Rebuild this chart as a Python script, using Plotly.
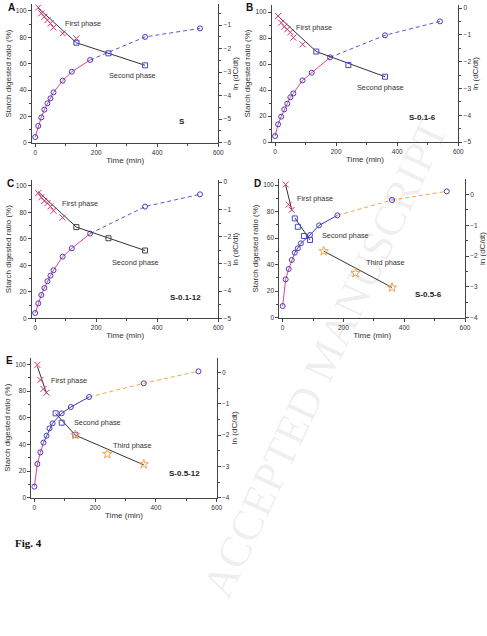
import plotly.graph_objects as go

# ---------------- data ----------------
time = [0, 10, 20, 30, 40, 50, 60, 90, 120, 180, 360, 540]

ratio_S = [4.3, 12.7, 19.2, 25.1, 29.9, 33.7, 38.2, 47.1, 53.9, 62.8, 80.3, 86.8]
ratio_B = [4.6, 13.6, 19.5, 25.1, 29.5, 34.4, 37.4, 47.4, 53.3, 65.1, 82.1, 92.8]
ratio_C = [4.0, 11.3, 17.6, 22.9, 28.0, 32.2, 36.3, 46.6, 52.9, 64.0, 84.4, 93.7]
ratio_D = [8.8, 28.9, 36.7, 43.5, 49.0, 52.3, 56.0, 62.3, 69.6, 77.1, 88.7, 95.2]
ratio_E = [8.3, 25.3, 34.0, 41.3, 46.5, 52.0, 55.8, 63.3, 68.0, 75.5, 85.8, 94.8]

# ln(dC/dt) points, phase 1 (crosses)
cross_t_S = [10, 20, 30, 40, 50, 60, 90, 135]
cross_v_S = [-0.25, -0.50, -0.65, -0.79, -0.93, -1.10, -1.35, -1.57]
cross_t_B = [10, 20, 30, 40, 50, 60, 90]
cross_v_B = [-0.29, -0.54, -0.69, -0.79, -0.90, -1.10, -1.35]
cross_t_C = [10, 20, 30, 40, 50, 60, 90]
cross_v_C = [-0.40, -0.56, -0.69, -0.77, -0.89, -1.05, -1.30]
cross_t_D = [10, 20, 30]
cross_v_D = [0.32, -0.33, -0.50]
cross_t_E = [10, 20, 30, 40]
cross_v_E = [0.25, -0.23, -0.52, -0.64]

# phase 2 (squares)
square_t_S = [135, 240, 360]
square_v_S = [-1.75, -2.20, -2.71]
square_t_B = [135, 240, 360]
square_v_B = [-1.62, -2.12, -2.56]
square_t_C = [135, 240, 360]
square_v_C = [-1.65, -2.06, -2.51]
square_t_D = [40, 50, 70, 90]
square_v_D = [-0.78, -1.05, -1.35, -1.48]
square_t_E = [70, 90, 135]
square_v_E = [-1.30, -1.60, -1.99]

# phase 3 (stars)
star_t_D = [135, 240, 360]
star_v_D = [-1.84, -2.55, -3.02]
star_t_E = [135, 240, 360]
star_v_E = [-1.99, -2.60, -2.93]

# fitted lines (end points)
fit1_t_S, fit1_v_S = [10, 135], [-0.28, -1.75]
fit2_t_S, fit2_v_S = [135, 360], [-1.75, -2.71]
fit1_t_B, fit1_v_B = [10, 135], [-0.30, -1.62]
fit2_t_B, fit2_v_B = [135, 360], [-1.62, -2.56]
fit1_t_C, fit1_v_C = [10, 135], [-0.35, -1.65]
fit2_t_C, fit2_v_C = [135, 360], [-1.65, -2.51]
fit1_t_D, fit1_v_D = [10, 30], [0.30, -0.50]
fit2_t_D, fit2_v_D = [40, 90], [-0.76, -1.48]
fit3_t_D, fit3_v_D = [135, 360], [-1.84, -3.02]
fit1_t_E, fit1_v_E = [10, 40], [0.20, -0.66]
fit2_t_E, fit2_v_E = [70, 135], [-1.30, -2.00]
fit3_t_E, fit3_v_E = [135, 360], [-2.00, -2.95]

sample_names = ["S", "S-0.1-6", "S-0.1-12", "S-0.5-6", "S-0.5-12"]
panel_letters = ["A", "B", "C", "D", "E"]

# ---------------- styling ----------------
W, H = 487, 636
PINK = "#e0409a"
XPINK = "#d8306f"
CIRC = "#4a3ab8"
BLUE = "#5858d8"
BLUE2 = "#3a3ab8"
ORANGE = "#f2a545"
BLACK = "#333333"
FONT = "Liberation Sans, Arial, sans-serif"


def px(x):
    return x / W


def py(y):
    return 1 - y / H


panels = [
    dict(ratio=ratio_S, pink_end=9, solid_end=None, dash_col=BLUE,
         crosses=(cross_t_S, cross_v_S), squares=(square_t_S, square_v_S), sq_col="#4545c8",
         stars=None, fits=[(fit1_t_S, fit1_v_S), (fit2_t_S, fit2_v_S)],
         xpx=(32, 218.3), ypx=(142.7, 4.4), xr=[-10.5, 600], yl=[0, 105], yr=[-6, -0.12],
         texts=[("First phase", 63, 24), ("Second phase", 107, 76)], name_pos=(182, 121),
         letter_pos=(11, 7.5)),
    dict(ratio=ratio_B, pink_end=9, solid_end=None, dash_col=BLUE,
         crosses=(cross_t_B, cross_v_B), squares=(square_t_B, square_v_B), sq_col="#4545c8",
         stars=None, fits=[(fit1_t_B, fit1_v_B), (fit2_t_B, fit2_v_B)],
         xpx=(271.7, 458.3), ypx=(142, 5), xr=[-11, 600], yl=[0, 105.4], yr=[-5, 0.12],
         texts=[("First phase", 294, 27), ("Second phase", 355, 88)], name_pos=(422, 117),
         letter_pos=(249, 7)),
    dict(ratio=ratio_C, pink_end=9, solid_end=None, dash_col=BLUE,
         crosses=(cross_t_C, cross_v_C), squares=(square_t_C, square_v_C), sq_col="#444444",
         stars=None, fits=[(fit1_t_C, fit1_v_C), (fit2_t_C, fit2_v_C)],
         xpx=(32, 218.3), ypx=(318.3, 180), xr=[-10.5, 600], yl=[0, 104.5], yr=[-5, 0.08],
         texts=[("First phase", 60, 203), ("Second phase", 110, 262)], name_pos=(185, 297),
         letter_pos=(10, 183)),
    dict(ratio=ratio_D, pink_end=4, solid_end=9, dash_col=ORANGE,
         crosses=(cross_t_D, cross_v_D), squares=(square_t_D, square_v_D), sq_col="#4545c8",
         stars=(star_t_D, star_v_D), fits=[(fit1_t_D, fit1_v_D), (fit2_t_D, fit2_v_D), (fit3_t_D, fit3_v_D)],
         xpx=(279.3, 465), ypx=(317.7, 179.3), xr=[-11, 600], yl=[0, 104.3], yr=[-4, 0.49],
         texts=[("First phase", 295, 198), ("Second phase", 320, 236), ("Third phase", 364, 262)],
         name_pos=(428, 294), letter_pos=(257, 183)),
    dict(ratio=ratio_E, pink_end=3, solid_end=9, dash_col=ORANGE,
         crosses=(cross_t_E, cross_v_E), squares=(square_t_E, square_v_E), sq_col="#4545c8",
         stars=(star_t_E, star_v_E), fits=[(fit1_t_E, fit1_v_E), (fit2_t_E, fit2_v_E), (fit3_t_E, fit3_v_E)],
         xpx=(31.3, 216.7), ypx=(497.7, 357.7), xr=[-10, 600], yl=[0, 105], yr=[-4, 0.48],
         texts=[("First phase", 49, 380), ("Second phase", 72, 422), ("Third phase", 111, 445)],
         name_pos=(184, 473), letter_pos=(9, 360)),
]

fig = go.Figure()
layout = dict(width=W, height=H, margin=dict(l=0, r=0, t=0, b=0),
              paper_bgcolor="white", plot_bgcolor="rgba(0,0,0,0)",
              showlegend=False, font=dict(family=FONT, color="#222"))
annotations = []

tickfont = dict(family=FONT, size=6.5, color="#333")
titlefont = dict(family=FONT, size=8, color="#333")

for i, p in enumerate(panels):
    n = i + 1
    xa = "x" if n == 1 else f"x{n}"
    yl_id = 2 * n - 1
    yr_id = 2 * n
    yla = "y" if yl_id == 1 else f"y{yl_id}"
    yra = f"y{yr_id}"
    xkey = "xaxis" if n == 1 else f"xaxis{n}"
    ylkey = "yaxis" if yl_id == 1 else f"yaxis{yl_id}"
    yrkey = f"yaxis{yr_id}"

    xd = [px(p["xpx"][0]), px(p["xpx"][1])]
    yd = [py(p["ypx"][0]), py(p["ypx"][1])]

    layout[xkey] = dict(domain=xd, anchor=yla, range=p["xr"], tickvals=[0, 200, 400, 600],
                        showgrid=False, zeroline=False, showline=True, linecolor="#444", linewidth=1,
                        ticks="outside", ticklen=3, tickcolor="#444", tickfont=tickfont,
                        ticklabeloverflow="allow",
                        minor=dict(ticks="outside", ticklen=2, dtick=100, tick0=0, tickcolor="#444"),
                        title=dict(text="Time (min)", font=titlefont, standoff=2), automargin=False)
    layout[ylkey] = dict(domain=yd, anchor=xa, range=p["yl"], tickvals=[0, 20, 40, 60, 80, 100],
                         showgrid=False, zeroline=False, showline=True, linecolor="#444", linewidth=1,
                         ticks="outside", ticklen=3, tickcolor="#444", tickfont=tickfont,
                         ticklabeloverflow="allow",
                         minor=dict(ticks="outside", ticklen=2, dtick=10, tick0=0, tickcolor="#444"),
                         title=dict(text="Starch digested ratio (%)", font=titlefont, standoff=3),
                         automargin=False)
    layout[yrkey] = dict(overlaying=yla, anchor=xa, side="right", range=p["yr"], dtick=1, tick0=0,
                         showgrid=False, zeroline=False, showline=True, linecolor="#444", linewidth=1,
                         ticks="outside", ticklen=3, tickcolor="#444", tickfont=tickfont,
                         ticklabeloverflow="allow",
                         minor=dict(ticks="outside", ticklen=2, dtick=0.5, tick0=0, tickcolor="#444"),
                         title=dict(text="ln (dC/dt)", font=titlefont, standoff=2), automargin=False)

    r = p["ratio"]
    pe = p["pink_end"]
    fig.add_trace(go.Scatter(x=time[:pe + 1], y=r[:pe + 1], mode="lines",
                             line=dict(color=PINK, width=1), xaxis=xa, yaxis=yla))
    start_dash = pe
    if p["solid_end"] is not None:
        se = p["solid_end"]
        fig.add_trace(go.Scatter(x=time[pe:se + 1], y=r[pe:se + 1], mode="lines",
                                 line=dict(color=BLUE2, width=1), xaxis=xa, yaxis=yla))
        start_dash = se
    fig.add_trace(go.Scatter(x=time[start_dash:], y=r[start_dash:], mode="lines",
                             line=dict(color=p["dash_col"], width=1, dash="4px,3px"), xaxis=xa, yaxis=yla))

    for ft, fv in p["fits"]:
        fig.add_trace(go.Scatter(x=ft, y=fv, mode="lines", line=dict(color=BLACK, width=1),
                                 xaxis=xa, yaxis=yra))

    fig.add_trace(go.Scatter(x=time, y=r, mode="markers",
                             marker=dict(symbol="circle-open", size=5, color=CIRC, line=dict(width=1)),
                             xaxis=xa, yaxis=yla))
    ct, cv = p["crosses"]
    fig.add_trace(go.Scatter(x=ct, y=cv, mode="markers",
                             marker=dict(symbol="x-thin", size=6, line=dict(color=XPINK, width=1)),
                             xaxis=xa, yaxis=yra))
    st, sv = p["squares"]
    fig.add_trace(go.Scatter(x=st, y=sv, mode="markers",
                             marker=dict(symbol="square-open", size=5, color=p["sq_col"], line=dict(width=1)),
                             xaxis=xa, yaxis=yra))
    if p["stars"] is not None:
        tt, tv = p["stars"]
        fig.add_trace(go.Scatter(x=tt, y=tv, mode="markers",
                                 marker=dict(symbol="star-open", size=7, color=ORANGE, line=dict(width=1)),
                                 xaxis=xa, yaxis=yra))

    for txt, x0, y0 in p["texts"]:
        annotations.append(dict(text=txt, x=px(x0), y=py(y0), xref="paper", yref="paper",
                                xanchor="left", yanchor="middle", showarrow=False,
                                font=dict(family=FONT, size=7.3, color="#333")))
    annotations.append(dict(text=f"<b>{sample_names[i]}</b>", x=px(p["name_pos"][0]), y=py(p["name_pos"][1]),
                            xref="paper", yref="paper", xanchor="center", yanchor="middle", showarrow=False,
                            font=dict(family=FONT, size=8, color="#222")))
    annotations.append(dict(text=f"<b>{panel_letters[i]}</b>", x=px(p["letter_pos"][0]), y=py(p["letter_pos"][1]),
                            xref="paper", yref="paper", xanchor="center", yanchor="middle", showarrow=False,
                            font=dict(family=FONT, size=10, color="#111")))

annotations.append(dict(text="<b>Fig. 4</b>", x=px(13), y=py(543), xref="paper", yref="paper",
                        xanchor="left", yanchor="middle", showarrow=False,
                        font=dict(family="Liberation Serif, Times New Roman, serif", size=11, color="#111")))
annotations.append(dict(text="ACCEPTED MANUSCRIPT", x=px(325), y=py(358), xref="paper", yref="paper",
                        xanchor="center", yanchor="middle", showarrow=False, textangle=-65,
                        font=dict(family="Liberation Serif, Times New Roman, serif", size=44,
                                  color="rgba(0,0,0,0.07)")))

layout["annotations"] = annotations
fig.update_layout(**layout)
fig.write_html("out.html", config={"displayModeBar": False, "staticPlot": True},
               post_script="document.body.style.margin='0';document.body.style.overflow='hidden';")
